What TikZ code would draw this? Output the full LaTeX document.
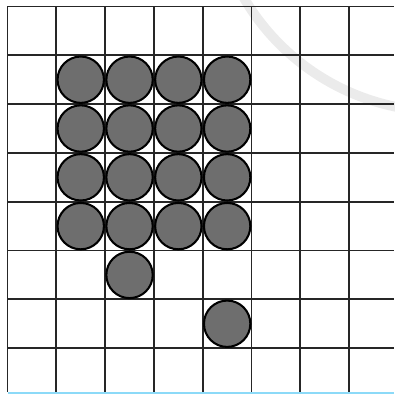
\documentclass[tikz,border=0pt]{standalone}
\usepackage{tikz}
\usetikzlibrary{calc,positioning}

\begin{document}
\begin{tikzpicture}[x=1cm,y=-1cm,
		gridline/.style={line width=1.1pt,black!85},
		bead/.style={circle,draw=black,line width=1.2pt,fill=black!57,
			minimum size=0.95cm,inner sep=0pt}]
				\path[use as bounding box]
				(-0.154,-0.133) rectangle (7.92,7.96);
				% faint stamp in the corner
				\draw[black!8,line width=0.2cm] (8.9,-2.55) circle (4.7);
				\foreach \i in {0,...,7} {
					\draw[gridline] (\i,0) -- (\i,7.9);
					\draw[gridline] (0,\i) -- (7.92,\i);
				}
				\draw[cyan!45,line width=1.4pt] (0,7.92) -- (7.92,7.92);
				\foreach \c in {1,...,4}
					\foreach \r in {1,...,4}
						\node[bead] (b\c\r) at (\c+0.5,\r+0.5) {};
				\node[bead] (b25) at (2.5,5.5) {};
				\node[bead] (b46) at (4.5,6.5) {};
			\end{tikzpicture}
\end{document}
